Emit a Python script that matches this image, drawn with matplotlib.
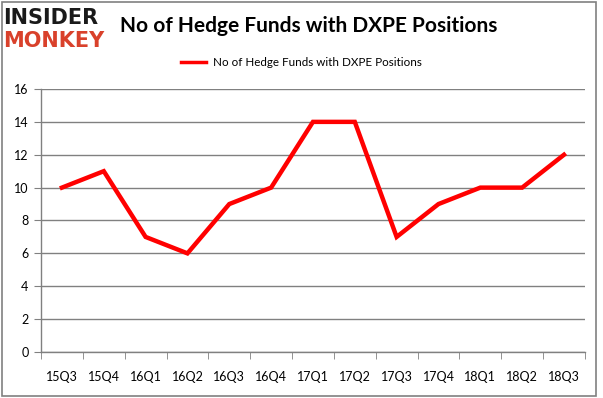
import matplotlib
matplotlib.use("Agg")
import matplotlib.pyplot as plt
from matplotlib.patches import Rectangle
from matplotlib.lines import Line2D

quarters = ["15Q3", "15Q4", "16Q1", "16Q2", "16Q3", "16Q4", "17Q1", "17Q2",
            "17Q3", "17Q4", "18Q1", "18Q2", "18Q3"]
funds = [10, 11, 7, 6, 9, 10, 14, 14, 7, 9, 10, 10, 12]
yticks = [0, 2, 4, 6, 8, 10, 12, 14, 16]
series_name = "No of Hedge Funds with DXPE Positions"
title = "No of Hedge Funds with DXPE Positions"

plt.rcParams['font.family'] = ['Lato', 'DejaVu Sans']

fig = plt.figure(figsize=(6.03, 3.98), dpi=100)
fig.patches.append(Rectangle((0.004, 0.005), 0.985, 0.99, transform=fig.transFigure,
                             fill=False, edgecolor='#808080', linewidth=1.2))

ax = fig.add_axes([0.068, 0.1156, 0.902, 0.6608])
x = list(range(len(quarters)))
ax.plot(x, funds, color='#ff0000', linewidth=3.2, solid_joinstyle='miter')
ax.set_xlim(-0.5, len(quarters) - 0.5)
ax.set_ylim(0, 16)
ax.set_yticks(yticks)
ax.set_yticklabels([str(v) for v in yticks], fontsize=9)
ax.set_xticks(x)
ax.set_xticklabels(quarters, fontsize=9)
ax.set_xticks([i - 0.5 for i in range(len(quarters) + 1)], minor=True)
ax.tick_params(axis='x', which='major', length=0, pad=14)
ax.tick_params(axis='x', which='minor', length=5, color='#808080')
ax.tick_params(axis='y', length=5, color='#808080', pad=4)
ax.grid(axis='y', color='#808080', linewidth=1)
ax.set_axisbelow(True)
for s in ['top', 'right']:
    ax.spines[s].set_visible(False)
for s in ['left', 'bottom']:
    ax.spines[s].set_color('#808080')
    ax.spines[s].set_linewidth(1)

fig.text(0.512, 0.935, title, ha='center', va='center', fontsize=15, fontweight='bold')
leg = fig.legend(handles=[Line2D([], [], color='#ff0000', linewidth=2.5)], labels=[series_name],
                 loc='center', bbox_to_anchor=(0.5, 0.843), frameon=False, fontsize=8.4,
                 handlelength=2.2, handletextpad=0.6)

fig.text(0.006, 0.955, "INSIDER", ha='left', va='center', fontsize=15, fontweight='heavy',
         color='#1a1a1a', family=['DejaVu Sans'])
fig.text(0.006, 0.898, "MONKEY", ha='left', va='center', fontsize=15, fontweight='heavy',
         color='#d9412b', family=['DejaVu Sans'])

fig.savefig("out.png", dpi=100)
